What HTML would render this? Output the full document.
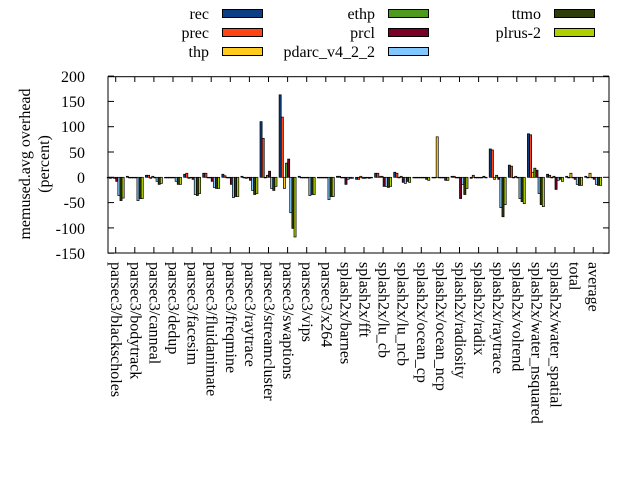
<!DOCTYPE html>
<html><head><meta charset="utf-8"><style>body{margin:0;background:#fff}svg{display:block}text{font-family:"Liberation Serif",serif;font-size:16px;fill:#000}</style></head><body>
<svg id="s" width="640" height="480" xmlns="http://www.w3.org/2000/svg">
<g id="bars"></g>
<rect x="108" y="76.7" width="501" height="176.3" fill="none" stroke="#000" stroke-width="1"/>
<g id="ticks" stroke="#000"></g>
<g text-anchor="end">
<text x="85" y="82">200</text><text x="85" y="107">150</text><text x="85" y="132">100</text>
<text x="85" y="158">50</text><text x="85" y="183">0</text><text x="85" y="208">-50</text>
<text x="85" y="234">-100</text><text x="85" y="259">-150</text>
</g>
<text transform="translate(30,164) rotate(-90)" text-anchor="middle">memused.avg overhead</text>
<text transform="translate(49,164) rotate(-90)" text-anchor="middle">(percent)</text>
<g text-anchor="end">
<text x="209" y="19">rec</text><text x="209" y="38">prec</text><text x="209" y="57">thp</text>
<text x="375" y="19">ethp</text><text x="375" y="38">prcl</text><text x="375" y="57">pdarc_v4_2_2</text>
<text x="541" y="19">ttmo</text><text x="541" y="38">plrus-2</text>
</g>
<g stroke="#000" stroke-width="1">
<rect x="222.5" y="9.5" width="40" height="8" fill="#0b3f83"/>
<rect x="222.5" y="28.5" width="40" height="8" fill="#ff4513"/>
<rect x="222.5" y="47.5" width="40" height="8" fill="#ffcc1e"/>
<rect x="388.5" y="9.5" width="40" height="8" fill="#4e9a1f"/>
<rect x="388.5" y="28.5" width="40" height="8" fill="#7a0025"/>
<rect x="388.5" y="47.5" width="40" height="8" fill="#80c8ff"/>
<rect x="554.5" y="9.5" width="40" height="8" fill="#2f3d09"/>
<rect x="554.5" y="28.5" width="40" height="8" fill="#b0d000"/>
</g>
<g>
<text transform="translate(111.2,262) rotate(90)">parsec3/blackscholes</text>
<text transform="translate(130.3,262) rotate(90)">parsec3/bodytrack</text>
<text transform="translate(149.4,262) rotate(90)">parsec3/canneal</text>
<text transform="translate(168.5,262) rotate(90)">parsec3/dedup</text>
<text transform="translate(187.6,262) rotate(90)">parsec3/facesim</text>
<text transform="translate(206.7,262) rotate(90)">parsec3/fluidanimate</text>
<text transform="translate(225.8,262) rotate(90)">parsec3/freqmine</text>
<text transform="translate(244.9,262) rotate(90)">parsec3/raytrace</text>
<text transform="translate(264,262) rotate(90)">parsec3/streamcluster</text>
<text transform="translate(283.1,262) rotate(90)">parsec3/swaptions</text>
<text transform="translate(302.2,262) rotate(90)">parsec3/vips</text>
<text transform="translate(321.3,262) rotate(90)">parsec3/x264</text>
<text transform="translate(340.4,262) rotate(90)">splash2x/barnes</text>
<text transform="translate(359.5,262) rotate(90)">splash2x/fft</text>
<text transform="translate(378.6,262) rotate(90)">splash2x/lu_cb</text>
<text transform="translate(397.7,262) rotate(90)">splash2x/lu_ncb</text>
<text transform="translate(416.8,262) rotate(90)">splash2x/ocean_cp</text>
<text transform="translate(435.9,262) rotate(90)">splash2x/ocean_ncp</text>
<text transform="translate(455,262) rotate(90)">splash2x/radiosity</text>
<text transform="translate(474.1,262) rotate(90)">splash2x/radix</text>
<text transform="translate(493.2,262) rotate(90)">splash2x/raytrace</text>
<text transform="translate(512.3,262) rotate(90)">splash2x/volrend</text>
<text transform="translate(531.4,262) rotate(90)">splash2x/water_nsquared</text>
<text transform="translate(550.5,262) rotate(90)">splash2x/water_spatial</text>
<text transform="translate(569.6,262) rotate(90)">total</text>
<text transform="translate(588.7,262) rotate(90)">average</text>
</g>
</svg>
<script>
var NS="http://www.w3.org/2000/svg";
var cols=["#0b3f83","#ff4513","#ffcc1e","#4e9a1f","#7a0025","#80c8ff","#2f3d09","#b0d000"];
var d=[[0,-2,0,-2,-8,-36,-46,-41],[2,0,0,0,0,-46,-42,-42],[4,4,-2,2,0,-8,-14,-12],[0,0,0,0,0,-8,-14,-14],
[6,8,-2,0,-4,-34,-36,-32],[8,8,0,0,-8,-20,-22,-22],[6,3,0,0,-14,-40,-38,-38],[2,0,-2,0,-6,-26,-34,-32],
[110,77,0,4,12,-22,-26,-18],[163,119,-22,28,36,-70,-101,-118],[2,0,0,0,0,-36,-34,-34],[0,0,0,0,0,-44,-38,-38],
[2,2,0,0,-14,-4,-2,-2],[-4,-4,2,-2,-2,0,-2,0],[8,8,2,2,-18,-18,-20,-18],[10,8,0,2,-10,-12,-8,-10],
[0,0,0,0,0,0,-4,-6],[0,0,80,0,0,0,-6,-6],[2,2,0,0,-42,-14,-34,-22],[-2,4,0,0,0,0,2,0],
[56,54,-4,4,-4,-60,-78,-54],[24,22,0,2,0,-42,-48,-52],[86,84,10,18,14,-32,-54,-58],[6,4,0,2,-24,-6,-4,-8],
[2,0,8,0,-4,-14,-16,-16],[2,0,8,0,-4,-14,-16,-16]];
function Y(v){return 177.3-v*0.506;}
function el(t,a,p){var e=document.createElementNS(NS,t);for(var k in a)e.setAttribute(k,a[k]);p.appendChild(e);return e;}
var B=document.getElementById("bars"),T=document.getElementById("ticks");
for(var i=0;i<26;i++){var cx=115.7+i*19.1;var w=17/8;
 for(var j=0;j<8;j++){var v=d[i][j];var x=cx-8.5+j*w;var y0=Y(Math.max(v,0)),y1=Y(Math.min(v,0));
  el("rect",{x:x,y:y0,width:w,height:Math.max(y1-y0,0.6),fill:cols[j],stroke:"#000","stroke-width":0.7},B);}
 el("line",{x1:cx,x2:cx,y1:76.7,y2:82},T);el("line",{x1:cx,x2:cx,y1:253,y2:247},T);
}
for(var v=-150;v<=200;v+=50){var y=Y(v);el("line",{x1:108,x2:114,y1:y,y2:y},T);el("line",{x1:609,x2:603,y1:y,y2:y},T);}
</script>
</body></html>
